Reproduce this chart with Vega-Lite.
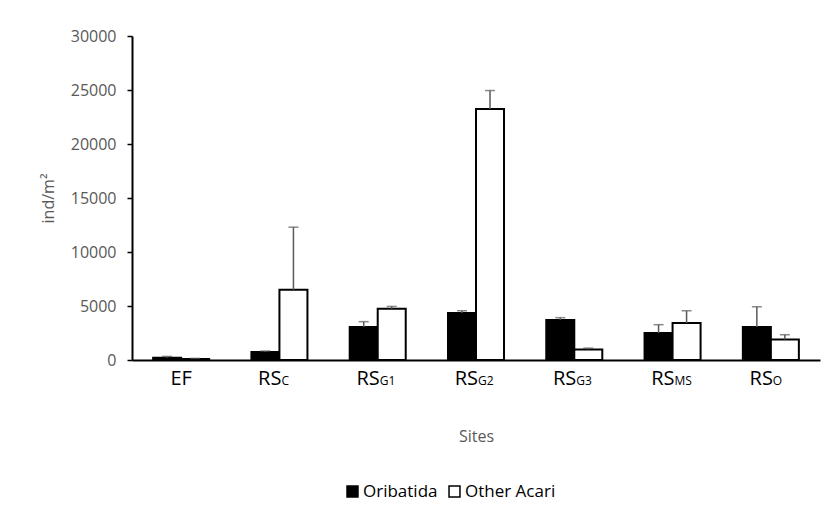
{
  "$schema": "https://vega.github.io/schema/vega-lite/v6.json",
  "width": 688,
  "height": 324,
  "autosize": "none",
  "padding": {"left": 132, "top": 36, "right": 6, "bottom": 153},
  "background": "white",
  "config": {
    "view": {"stroke": null},
    "font": "Open Sans"
  },
  "datasets": {
    "bars": [
      {"site": "EF", "series": "Oribatida", "value": 200, "upper": 330},
      {"site": "EF", "series": "Other Acari", "value": 100, "upper": 150},
      {"site": "RSC", "series": "Oribatida", "value": 740, "upper": 830},
      {"site": "RSC", "series": "Other Acari", "value": 6500, "upper": 12300},
      {"site": "RSG1", "series": "Oribatida", "value": 3050, "upper": 3550},
      {"site": "RSG1", "series": "Other Acari", "value": 4750, "upper": 4960},
      {"site": "RSG2", "series": "Oribatida", "value": 4350, "upper": 4560},
      {"site": "RSG2", "series": "Other Acari", "value": 23250, "upper": 24950},
      {"site": "RSG3", "series": "Oribatida", "value": 3700, "upper": 3920},
      {"site": "RSG3", "series": "Other Acari", "value": 980, "upper": 1100},
      {"site": "RSMS", "series": "Oribatida", "value": 2500, "upper": 3270},
      {"site": "RSMS", "series": "Other Acari", "value": 3430, "upper": 4560},
      {"site": "RSO", "series": "Oribatida", "value": 3050, "upper": 4930},
      {"site": "RSO", "series": "Other Acari", "value": 1900, "upper": 2340}
    ],
    "sites": [
      {"site": "EF", "main": "EF", "sub": ""},
      {"site": "RSC", "main": "RS", "sub": "C"},
      {"site": "RSG1", "main": "RS", "sub": "G1"},
      {"site": "RSG2", "main": "RS", "sub": "G2"},
      {"site": "RSG3", "main": "RS", "sub": "G3"},
      {"site": "RSMS", "main": "RS", "sub": "MS"},
      {"site": "RSO", "main": "RS", "sub": "O"}
    ]
  },
  "encoding": {
    "x": {
      "field": "site",
      "type": "nominal",
      "sort": ["EF", "RSC", "RSG1", "RSG2", "RSG3", "RSMS", "RSO"],
      "scale": {"paddingInner": 0.43, "paddingOuter": 0.215},
      "axis": {
        "title": "Sites",
        "labels": false,
        "ticks": false,
        "domainColor": "black",
        "domainWidth": 2,
        "titleColor": "#595959",
        "titleFontSize": 16,
        "titleFontWeight": "normal",
        "titlePadding": 68
      }
    }
  },
  "layer": [
    {
      "data": {"name": "bars"},
      "mark": {"type": "bar", "stroke": "black", "strokeWidth": 2},
      "encoding": {
        "xOffset": {"field": "series", "type": "nominal", "sort": ["Oribatida", "Other Acari"]},
        "y": {
          "field": "value",
          "type": "quantitative",
          "scale": {"domain": [0, 30000]},
          "axis": {
            "title": "ind/m²",
            "values": [0, 5000, 10000, 15000, 20000, 25000, 30000],
            "format": "d",
            "grid": false,
            "domainColor": "black",
            "domainWidth": 2,
            "tickColor": "black",
            "tickSize": 5,
            "tickWidth": 1.5,
            "labelColor": "#595959",
            "labelFontSize": 16,
            "labelPadding": 11,
            "titleColor": "#595959",
            "titleFontSize": 16,
            "titleFontWeight": "normal",
            "titlePadding": 14
          }
        },
        "fill": {
          "field": "series",
          "type": "nominal",
          "sort": ["Oribatida", "Other Acari"],
          "scale": {"range": ["black", "white"]},
          "legend": {
            "title": null,
            "orient": "none",
            "direction": "horizontal",
            "legendX": 212,
            "legendY": 447,
            "symbolType": "square",
            "symbolSize": 120,
            "symbolStrokeColor": "black",
            "symbolStrokeWidth": 1.5,
            "labelFontSize": 17,
            "labelColor": "black",
            "labelOffset": 2,
            "columnPadding": 8
          }
        }
      }
    },
    {
      "data": {"name": "bars"},
      "mark": {"type": "rule", "color": "#595959", "strokeWidth": 1.5},
      "encoding": {
        "xOffset": {"field": "series", "type": "nominal", "sort": ["Oribatida", "Other Acari"]},
        "y": {"field": "value", "type": "quantitative"},
        "y2": {"field": "upper"}
      }
    },
    {
      "data": {"name": "bars"},
      "mark": {"type": "tick", "color": "#595959", "thickness": 1.5, "size": 10, "orient": "horizontal"},
      "encoding": {
        "xOffset": {"field": "series", "type": "nominal", "sort": ["Oribatida", "Other Acari"]},
        "y": {"field": "upper", "type": "quantitative"}
      }
    },
    {
      "data": {"name": "sites"},
      "transform": [{"filter": "datum.sub === ''"}],
      "mark": {"type": "text", "fontSize": 20, "color": "black", "align": "center", "baseline": "alphabetic", "dy": 25},
      "encoding": {
        "y": {"datum": 0, "type": "quantitative"},
        "text": {"field": "main"}
      }
    },
    {
      "data": {"name": "sites"},
      "transform": [{"filter": "datum.sub !== ''"}],
      "mark": {"type": "text", "fontSize": 20, "color": "black", "align": "right", "baseline": "alphabetic", "dx": 2, "dy": 25},
      "encoding": {
        "y": {"datum": 0, "type": "quantitative"},
        "text": {"field": "main"}
      }
    },
    {
      "data": {"name": "sites"},
      "transform": [{"filter": "datum.sub !== ''"}],
      "mark": {"type": "text", "fontSize": 12, "color": "black", "align": "left", "baseline": "alphabetic", "dx": 2, "dy": 25},
      "encoding": {
        "y": {"datum": 0, "type": "quantitative"},
        "text": {"field": "sub"}
      }
    }
  ]
}
